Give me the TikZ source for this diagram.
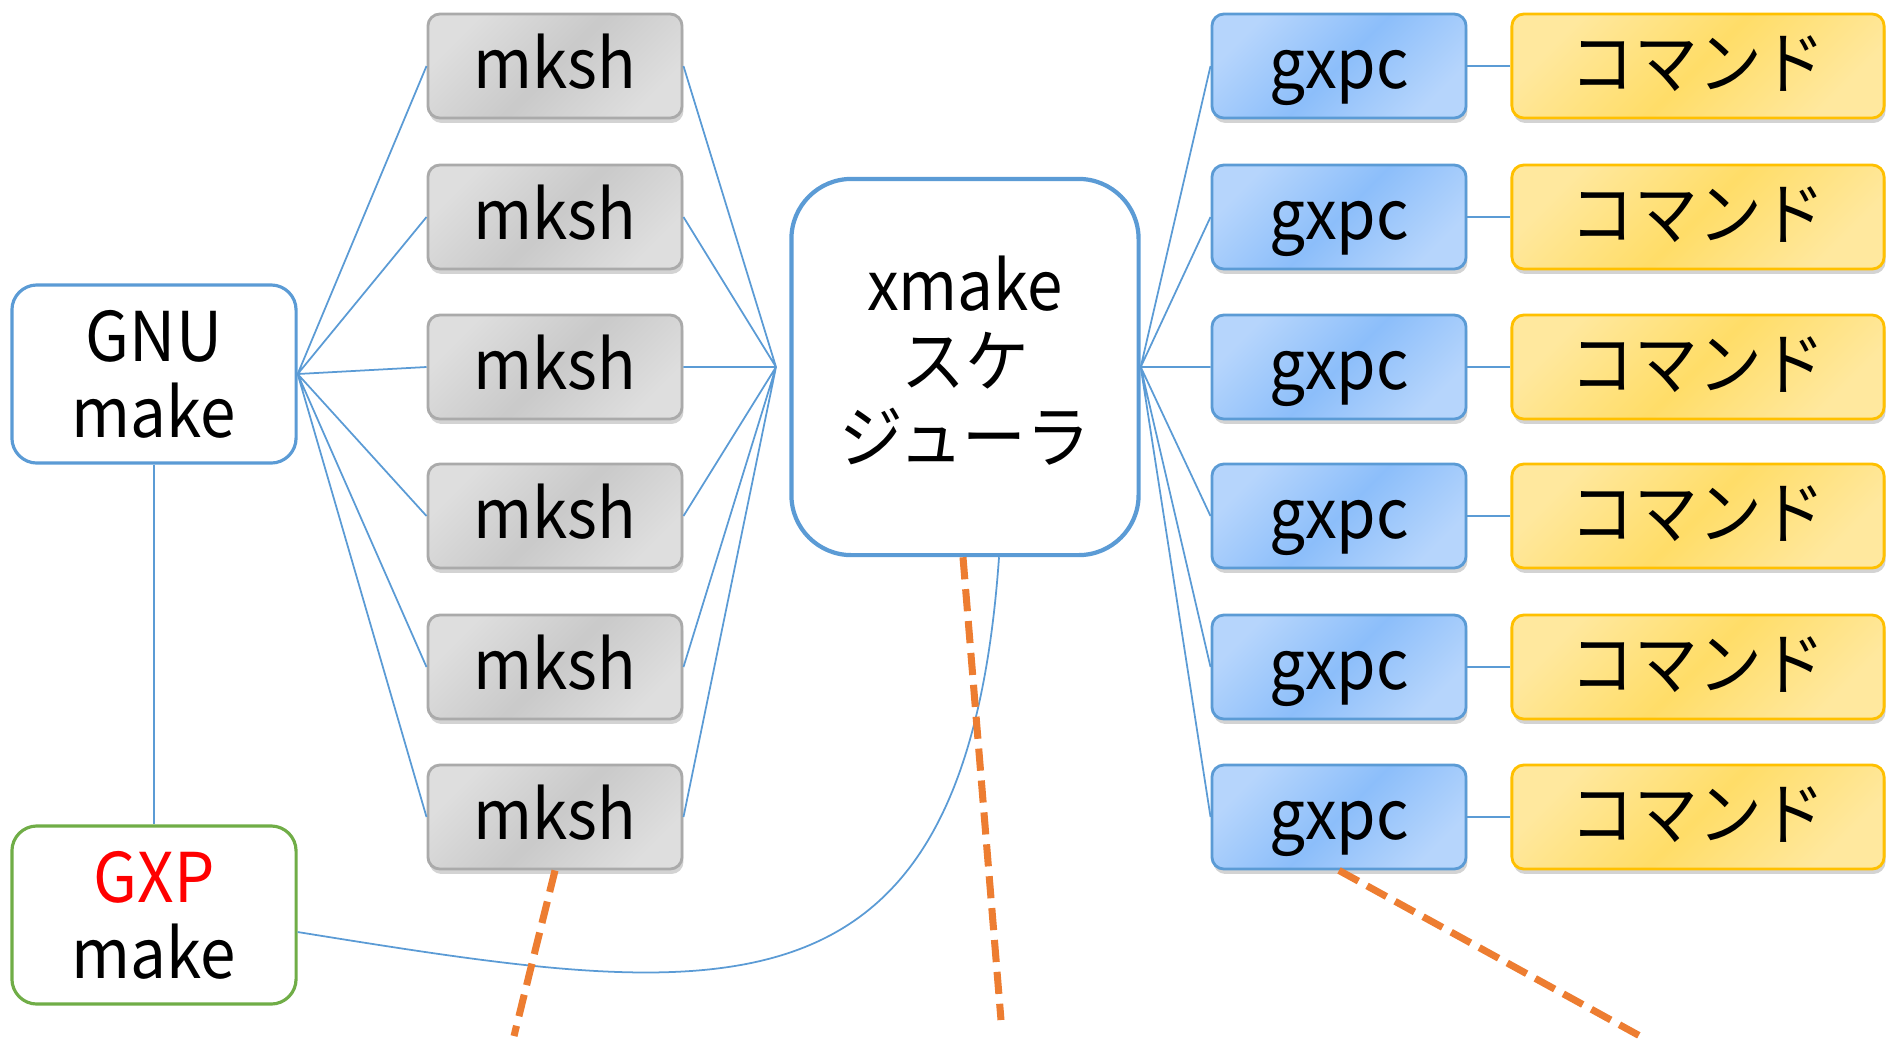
\documentclass[tikz,border=0pt]{standalone}
\usepackage{fontspec}
\setmainfont[FakeStretch=0.93]{Noto Sans CJK JP}
\usepackage{tikz}
\usetikzlibrary{shadows}
\definecolor{lnblue}{RGB}{91,155,213}
\definecolor{lngreen}{RGB}{112,173,71}
\definecolor{dashorange}{RGB}{237,125,49}
\definecolor{shgray}{RGB}{170,170,170}
\definecolor{gxpclight}{RGB}{182,213,252}
\definecolor{gxpcblue}{RGB}{140,190,250}
\definecolor{cmdlight}{RGB}{255,232,158}
\definecolor{cmdyellow}{RGB}{255,221,104}
\definecolor{cmdborder}{RGB}{255,192,0}
\tikzstyle{link} = [lnblue, line width=0.5pt]
\tikzstyle{task} = [rounded corners=0.12cm, minimum width=2.54cm, minimum height=1.04cm, inner sep=1pt, text height=16pt, text depth=3pt, line width=0.8pt, drop shadow={shadow xshift=0.4pt, shadow yshift=-1.4pt, opacity=0.35}]
\tikzstyle{mkshbox} = [task, draw=shgray, top color=black!13, bottom color=black!13, middle color=black!21, shading angle=45]
\tikzstyle{gxpcbox} = [task, draw=lnblue, top color=gxpclight, bottom color=gxpclight, middle color=gxpcblue, shading angle=45]
\tikzstyle{cmdbox} = [task, minimum width=3.72cm, draw=cmdborder, top color=cmdlight, bottom color=cmdlight, middle color=cmdyellow, shading angle=45]
\tikzstyle{makebox} = [rounded corners=0.25cm, minimum width=2.84cm, minimum height=1.78cm, align=center, fill=white, line width=0.9pt]
\tikzstyle{tail} = [dashorange, line width=2pt, dash pattern=on 6.3pt off 2.8pt]

\begin{document}
\begin{tikzpicture}[x=0.01cm, y=-0.01cm, font=\fontsize{19.5pt}{21.6pt}\selectfont]
\useasboundingbox (0,0) rectangle (1887,1038);

% make processes
\node[makebox, draw=lnblue] (gnu) at (154,374) {GNU\\make};
\node[makebox, draw=lngreen] (gxp) at (154,915) {\textcolor{red}{GXP}\\make};

% mksh column
\node[mkshbox] (m1) at (555,66) {mksh};
\node[mkshbox] (m2) at (555,217) {mksh};
\node[mkshbox] (m3) at (555,367) {mksh};
\node[mkshbox] (m4) at (555,516) {mksh};
\node[mkshbox] (m5) at (555,667) {mksh};
\node[mkshbox] (m6) at (555,817) {mksh};

% scheduler
\node[draw=lnblue, line width=1.2pt, rounded corners=0.6cm, minimum width=3.47cm, minimum height=3.76cm, align=center, text depth=4.5pt, fill=white] (xmake) at (965,367) {xmake\\スケ\\ジューラ};
\coordinate (xin) at (776,367);

% gxpc column
\node[gxpcbox] (g1) at (1339,66) {gxpc};
\node[gxpcbox] (g2) at (1339,217) {gxpc};
\node[gxpcbox] (g3) at (1339,367) {gxpc};
\node[gxpcbox] (g4) at (1339,516) {gxpc};
\node[gxpcbox] (g5) at (1339,667) {gxpc};
\node[gxpcbox] (g6) at (1339,817) {gxpc};

% commands
\node[cmdbox] (c1) at (1698,66) {コマンド};
\node[cmdbox] (c2) at (1698,217) {コマンド};
\node[cmdbox] (c3) at (1698,367) {コマンド};
\node[cmdbox] (c4) at (1698,516) {コマンド};
\node[cmdbox] (c5) at (1698,667) {コマンド};
\node[cmdbox] (c6) at (1698,817) {コマンド};

% connectors
\draw[link] (gnu.south) -- (gxp.north);
\draw[link] (gnu.east) -- (m1.west) (gnu.east) -- (m2.west) (gnu.east) -- (m3.west)
  (gnu.east) -- (m4.west) (gnu.east) -- (m5.west) (gnu.east) -- (m6.west);
\draw[link] (m1.east) -- (xin) (m2.east) -- (xin) (m3.east) -- (xin)
  (m4.east) -- (xin) (m5.east) -- (xin) (m6.east) -- (xin);
\draw[link] (xmake.east) -- (g1.west) (xmake.east) -- (g2.west) (xmake.east) -- (g3.west)
  (xmake.east) -- (g4.west) (xmake.east) -- (g5.west) (xmake.east) -- (g6.west);
\draw[link] (g1) -- (c1) (g2) -- (c2) (g3) -- (c3) (g4) -- (c4) (g5) -- (c5) (g6) -- (c6);
\draw[link] ([yshift=-0.17cm]gxp.east) .. controls (720,1000) and (965,1040) .. ([xshift=0.34cm]xmake.south);

% orange dashed tails
\coordinate (t1) at (514,1036);
\coordinate (t2) at (1001,1020);
\coordinate (t3) at (1640,1036);
\draw[tail] (m6.south) -- (t1);
\draw[tail] ([xshift=-0.02cm]xmake.south) -- (t2);
\draw[tail] (g6.south) -- (t3);
\end{tikzpicture}
\end{document}
